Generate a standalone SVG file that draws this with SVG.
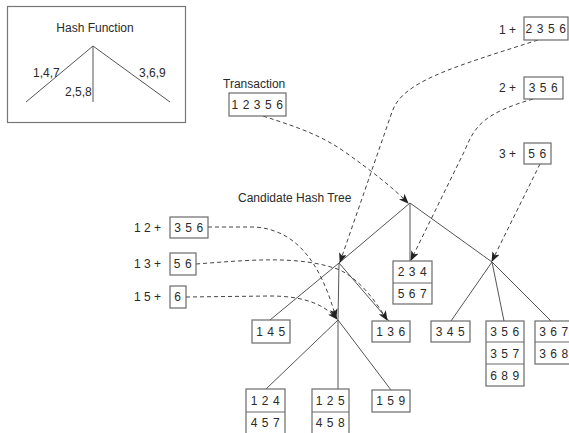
<svg xmlns="http://www.w3.org/2000/svg" width="569" height="433" viewBox="0 0 569 433">
  <style>
    text { font-family: "Liberation Sans", Arial, sans-serif; font-size: 12px; fill: #2a2a2a; }
    .num { letter-spacing: 0.6px; text-anchor: middle; }
    .box { fill: #fff; stroke: #6a6a6a; stroke-width: 1.2; }
    .div { stroke: #6a6a6a; stroke-width: 1.2; }
    .edge { fill: none; stroke: #555; stroke-width: 1; }
    .dash { fill: none; stroke: #444; stroke-width: 1; stroke-dasharray: 4 3; }
  </style>
  <defs>
    <marker id="arrow" markerWidth="10" markerHeight="8" refX="9" refY="4" orient="auto" markerUnits="userSpaceOnUse">
      <path d="M0,0 L10,4 L0,8 L2.5,4 Z" fill="#222"/>
    </marker>
  </defs>

  <rect width="569" height="433" fill="#fff"/>

  <!-- hash function legend -->
  <g id="hash-function">
    <rect x="7.5" y="6.5" width="178" height="116" fill="#fff" stroke="#777" stroke-width="1.2"/>
    <text x="95" y="32" text-anchor="middle">Hash Function</text>
    <path class="edge" d="M26,102 L93,46 L170,102 M93,46 L93,102"/>
    <text x="33" y="77">1,4,7</text>
    <text x="65" y="96">2,5,8</text>
    <text x="139" y="77">3,6,9</text>
  </g>

  <!-- tree edges and dashed traversal arrows -->
  <g id="connectors">
    <path class="edge" d="M410,203 L339,263 L270,320"/>
    <path class="edge" d="M410,203 L410,261"/>
    <path class="edge" d="M410,203 L492,262 L551,321"/>
    <path class="edge" d="M492,262 L451,321 M492,262 L504,321"/>
    <path class="edge" d="M339,263 L338,320 M339,263 L389,321"/>
    <path class="edge" d="M338,320 L266,389 M338,320 L338,389 M338,320 L391,390"/>

    <path class="dash" marker-end="url(#arrow)" d="M263,116 C300,128 320,135 345,152 C370,170 390,185 408,203"/>
    <path class="dash" marker-end="url(#arrow)" d="M538,40 C450,68 402,82 392,112 L340,262"/>
    <path class="dash" marker-end="url(#arrow)" d="M533,99 C485,113 475,125 465,150 L411,260"/>
    <path class="dash" marker-end="url(#arrow)" d="M540,164 L492,261"/>
    <path class="dash" marker-end="url(#arrow)" d="M208,227 L255,227 C295,230 320,260 336,318"/>
    <path class="dash" marker-end="url(#arrow)" d="M196,264 C250,260 300,255 340,270 C360,280 375,300 387,320"/>
    <path class="dash" marker-end="url(#arrow)" d="M186,297 L270,296 C305,296 325,305 337,319"/>
  </g>

  <g id="transaction">
    <text x="223" y="88">Transaction</text>
    <rect class="box" x="229" y="93" width="57" height="23"/>
    <text class="num" x="257.5" y="109">1 2 3 5 6</text>
  </g>

  <g id="subset-1">
    <text x="499" y="34">1 +</text>
    <rect class="box" x="524" y="17" width="44" height="23"/>
    <text class="num" x="546" y="33">2 3 5 6</text>
  </g>
  <g id="subset-2">
    <text x="499" y="92">2 +</text>
    <rect class="box" x="524" y="77" width="39" height="22"/>
    <text class="num" x="543.5" y="92">3 5 6</text>
  </g>
  <g id="subset-3">
    <text x="499" y="158">3 +</text>
    <rect class="box" x="524" y="143" width="27" height="21"/>
    <text class="num" x="537.5" y="158">5 6</text>
  </g>

  <g id="tree-label">
    <text x="238" y="202">Candidate Hash Tree</text>
  </g>

  <g id="subset-12">
    <text x="134" y="232">1 2 +</text>
    <rect class="box" x="170" y="217" width="38" height="21"/>
    <text class="num" x="189" y="232">3 5 6</text>
  </g>
  <g id="subset-13">
    <text x="134" y="268">1 3 +</text>
    <rect class="box" x="170" y="253" width="26" height="22"/>
    <text class="num" x="183" y="268">5 6</text>
  </g>
  <g id="subset-15">
    <text x="134" y="301">1 5 +</text>
    <rect class="box" x="170" y="286" width="16" height="22"/>
    <text class="num" x="178" y="301">6</text>
  </g>

  <g id="leaf-234">
    <rect class="box" x="393" y="261" width="39" height="43"/>
    <line class="div" x1="393" y1="283" x2="432" y2="283"/>
    <text class="num" x="412.5" y="276">2 3 4</text>
    <text class="num" x="412.5" y="298">5 6 7</text>
  </g>
  <g id="leaf-145">
    <rect class="box" x="252" y="320" width="38" height="23"/>
    <text class="num" x="271" y="336">1 4 5</text>
  </g>
  <g id="leaf-136">
    <rect class="box" x="372" y="321" width="38" height="21"/>
    <text class="num" x="391" y="336">1 3 6</text>
  </g>
  <g id="leaf-345">
    <rect class="box" x="431" y="321" width="39" height="21"/>
    <text class="num" x="450.5" y="336">3 4 5</text>
  </g>
  <g id="leaf-356">
    <rect class="box" x="486" y="321" width="38" height="65"/>
    <line class="div" x1="486" y1="342" x2="524" y2="342"/>
    <line class="div" x1="486" y1="364" x2="524" y2="364"/>
    <text class="num" x="505" y="336">3 5 6</text>
    <text class="num" x="505" y="358">3 5 7</text>
    <text class="num" x="505" y="380">6 8 9</text>
  </g>
  <g id="leaf-367">
    <rect class="box" x="535" y="321" width="40" height="43"/>
    <line class="div" x1="535" y1="342" x2="575" y2="342"/>
    <text class="num" x="554" y="336">3 6 7</text>
    <text class="num" x="554" y="358">3 6 8</text>
  </g>
  <g id="leaf-124">
    <rect class="box" x="246" y="389" width="39" height="48"/>
    <line class="div" x1="246" y1="412" x2="285" y2="412"/>
    <text class="num" x="265.5" y="405">1 2 4</text>
    <text class="num" x="265.5" y="427">4 5 7</text>
  </g>
  <g id="leaf-125">
    <rect class="box" x="312" y="389" width="37" height="48"/>
    <line class="div" x1="312" y1="412" x2="349" y2="412"/>
    <text class="num" x="330.5" y="405">1 2 5</text>
    <text class="num" x="330.5" y="427">4 5 8</text>
  </g>
  <g id="leaf-159">
    <rect class="box" x="372" y="390" width="38" height="22"/>
    <text class="num" x="391" y="405">1 5 9</text>
  </g>
</svg>
